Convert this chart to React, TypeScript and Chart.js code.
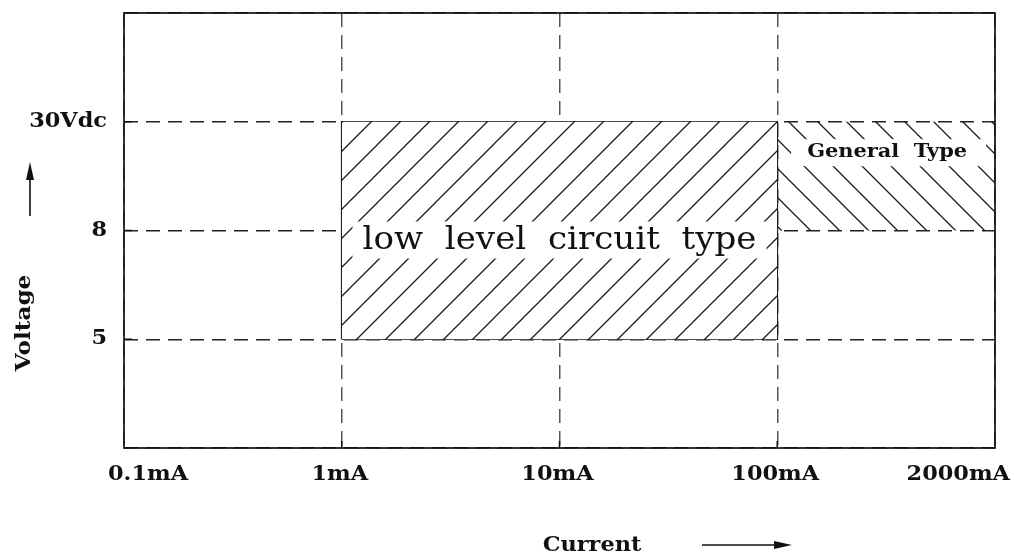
import React, { useEffect, useRef } from "react";
import { Chart, registerables } from "chart.js";
Chart.register(...registerables);

// Axis categories (placed at equal steps 0..4 on x, 1..3 on y)
const currentLabels = ["0.1mA", "1mA", "10mA", "100mA", "2000mA"];
const currentIndex = [0, 1, 2, 3, 4];
const voltageLabels = ["5", "8", "30Vdc"];
const voltageIndex = [1, 2, 3];

// Regions (in axis-step units)
const lowLevelX = [1, 3]; // 1mA .. 100mA
const lowLevelY = [1, 3]; // 5 .. 30Vdc
const generalX = [3, 4]; // 100mA .. 2000mA
const generalY = [2, 3]; // 8 .. 30Vdc

const lowLevelText = "low  level  circuit  type";
const generalText = "General  Type";
const xTitle = "Current";
const yTitle = "Voltage";

const FONT = "'DejaVu Serif', 'Liberation Serif', serif";
const STRETCH = 1.12;

function makeHatch(dir: 1 | -1, s: number, bg: string | null) {
  const c = document.createElement("canvas");
  c.width = s;
  c.height = s;
  const g = c.getContext("2d")!;
  if (bg) {
    g.fillStyle = bg;
    g.fillRect(0, 0, s, s);
  }
  g.strokeStyle = "#1a1a1a";
  g.lineWidth = 1.3;
  g.beginPath();
  if (dir === 1) {
    g.moveTo(-3, s + 3); g.lineTo(s + 3, -3);
    g.moveTo(-3, 3); g.lineTo(3, -3);
    g.moveTo(s - 3, s + 3); g.lineTo(s + 3, s - 3);
  } else {
    g.moveTo(-3, -3); g.lineTo(s + 3, s + 3);
    g.moveTo(s - 3, -3); g.lineTo(s + 3, 3);
    g.moveTo(-3, s - 3); g.lineTo(3, s + 3);
  }
  g.stroke();
  return g.createPattern(c, "repeat")!;
}

function text(
  ctx: CanvasRenderingContext2D,
  t: string,
  x: number,
  y: number,
  font: string,
  align: CanvasTextAlign,
  stretch = STRETCH
) {
  ctx.save();
  ctx.font = font;
  ctx.textBaseline = "middle";
  ctx.textAlign = align;
  ctx.translate(x, y);
  ctx.scale(stretch, 1);
  ctx.fillStyle = "#111";
  ctx.fillText(t, 0, 0);
  ctx.restore();
}

function arrow(ctx: CanvasRenderingContext2D, x1: number, y1: number, x2: number, y2: number) {
  const ang = Math.atan2(y2 - y1, x2 - x1);
  const hl = 18, hw = 4;
  ctx.save();
  ctx.strokeStyle = "#111";
  ctx.fillStyle = "#111";
  ctx.lineWidth = 1.6;
  ctx.beginPath();
  ctx.moveTo(x1, y1);
  ctx.lineTo(x2 - Math.cos(ang) * hl * 0.8, y2 - Math.sin(ang) * hl * 0.8);
  ctx.stroke();
  ctx.translate(x2, y2);
  ctx.rotate(ang);
  ctx.beginPath();
  ctx.moveTo(0, 0);
  ctx.lineTo(-hl, -hw);
  ctx.lineTo(-hl, hw);
  ctx.closePath();
  ctx.fill();
  ctx.restore();
}

const overlay = {
  id: "overlay",
  afterDatasetsDraw(chart: any) {
    const ctx: CanvasRenderingContext2D = chart.ctx;
    const xs = chart.scales.x;
    const ys = chart.scales.y;
    const a = chart.chartArea;
    ctx.save();
    // small solid tick stubs
    ctx.strokeStyle = "#111";
    ctx.lineWidth = 1.5;
    ctx.beginPath();
    [1, 2, 3].forEach((v) => {
      const px = xs.getPixelForValue(v);
      ctx.moveTo(px, a.bottom);
      ctx.lineTo(px, a.bottom - 7);
    });
    voltageIndex.forEach((v) => {
      const py = ys.getPixelForValue(v);
      ctx.moveTo(a.left, py);
      ctx.lineTo(a.left + 8, py);
    });
    ctx.stroke();
    // frame
    ctx.lineWidth = 1.7;
    ctx.strokeRect(a.left, a.top, a.right - a.left, a.bottom - a.top);

    // region labels with white backgrounds
    const lx = (xs.getPixelForValue(lowLevelX[0]) + xs.getPixelForValue(lowLevelX[1])) / 2;
    const ly = ys.getPixelForValue(2) + 10;
    ctx.fillStyle = "#fff";
    ctx.fillRect(lx - 207, ly - 19, 414, 37);
    text(ctx, lowLevelText, lx, ly, `500 31px ${FONT}`, "center", 1.1);

    const gx = (xs.getPixelForValue(generalX[0]) + xs.getPixelForValue(generalX[1])) / 2;
    const gy = ys.getPixelForValue(2.72);
    ctx.fillStyle = "#fff";
    ctx.fillRect(gx - 95, gy - 13, 195, 27);
    text(ctx, generalText, gx + 1, gy, `bold 19px ${FONT}`, "center", 1.1);

    // tick labels
    const tf = `bold 20px ${FONT}`;
    currentIndex.forEach((v, i) => {
      const px = xs.getPixelForValue(v);
      const last = currentIndex.length - 1;
      if (i === 0) text(ctx, currentLabels[i], px - 16, 475, tf, "left");
      else if (i === last) text(ctx, currentLabels[i], px + 15, 475, tf, "right");
      else text(ctx, currentLabels[i], px - 2, 475, tf, "center");
    });
    voltageIndex.forEach((v, i) => {
      const py = ys.getPixelForValue(v);
      text(ctx, voltageLabels[i], a.left - 17, py, tf, "right");
    });

    // axis titles with arrows
    text(ctx, xTitle, 592, 546, `bold 20px ${FONT}`, "center");
    arrow(ctx, 702, 545, 792, 545);
    ctx.save();
    ctx.translate(25, 323);
    ctx.rotate(-Math.PI / 2);
    text(ctx, yTitle, 0, 0, `bold 21px ${FONT}`, "center", 1.1);
    ctx.restore();
    arrow(ctx, 30, 216, 30, 162);
    ctx.restore();
  },
};

export default function App() {
  const ref = useRef<HTMLCanvasElement>(null);
  useEffect(() => {
    if (!ref.current) return;
    const lowHatch = makeHatch(1, 29, "#ffffff");
    const genHatch = makeHatch(-1, 29, null);
    const pts = (xr: number[], y: number) => xr.map((x) => ({ x, y }));
    const chart = new Chart(ref.current, {
      type: "line",
      data: {
        datasets: [
          {
            data: pts(lowLevelX, lowLevelY[1]),
            fill: "+1",
            backgroundColor: lowHatch as any,
            borderWidth: 0,
            borderColor: "rgba(0,0,0,0)",
            pointRadius: 0,
          },
          {
            data: pts(lowLevelX, lowLevelY[0]),
            fill: false,
            borderWidth: 0,
            borderColor: "rgba(0,0,0,0)",
            pointRadius: 0,
          },
          {
            data: pts(generalX, generalY[1]),
            fill: "+1",
            backgroundColor: genHatch as any,
            borderWidth: 0,
            borderColor: "rgba(0,0,0,0)",
            pointRadius: 0,
          },
          {
            data: pts(generalX, generalY[0]),
            fill: false,
            borderWidth: 0,
            borderColor: "rgba(0,0,0,0)",
            pointRadius: 0,
          },
          {
            data: [
              { x: lowLevelX[0], y: lowLevelY[0] },
              { x: lowLevelX[0], y: lowLevelY[1] },
              { x: lowLevelX[1], y: lowLevelY[1] },
              { x: lowLevelX[1], y: lowLevelY[0] },
              { x: lowLevelX[0], y: lowLevelY[0] },
            ],
            fill: false,
            borderColor: "#111",
            borderWidth: 1.7,
            pointRadius: 0,
          },
        ],
      },
      options: {
        animation: false,
        responsive: false,
        devicePixelRatio: 1,
        layout: { padding: { left: 124, right: 19, top: 13, bottom: 108 } },
        plugins: { legend: { display: false }, tooltip: { enabled: false } },
        scales: {
          x: {
            type: "linear",
            min: 0,
            max: 4,
            ticks: { display: false, stepSize: 1 },
            grid: { color: "#555", lineWidth: 1.5, drawTicks: false },
            border: { display: false, dash: [14, 8] },
          },
          y: {
            type: "linear",
            min: 0,
            max: 4,
            ticks: { display: false, stepSize: 1 },
            grid: { color: "#222", lineWidth: 1.5, drawTicks: false },
            border: { display: false, dash: [14, 8] },
          },
        },
      },
      plugins: [overlay],
    });
    return () => chart.destroy();
  }, []);
  return (
    <div style={{ position: "absolute", left: 0, top: 0, width: 1014, height: 556, background: "#fff" }}>
      <canvas ref={ref} width={1014} height={556} />
    </div>
  );
}
